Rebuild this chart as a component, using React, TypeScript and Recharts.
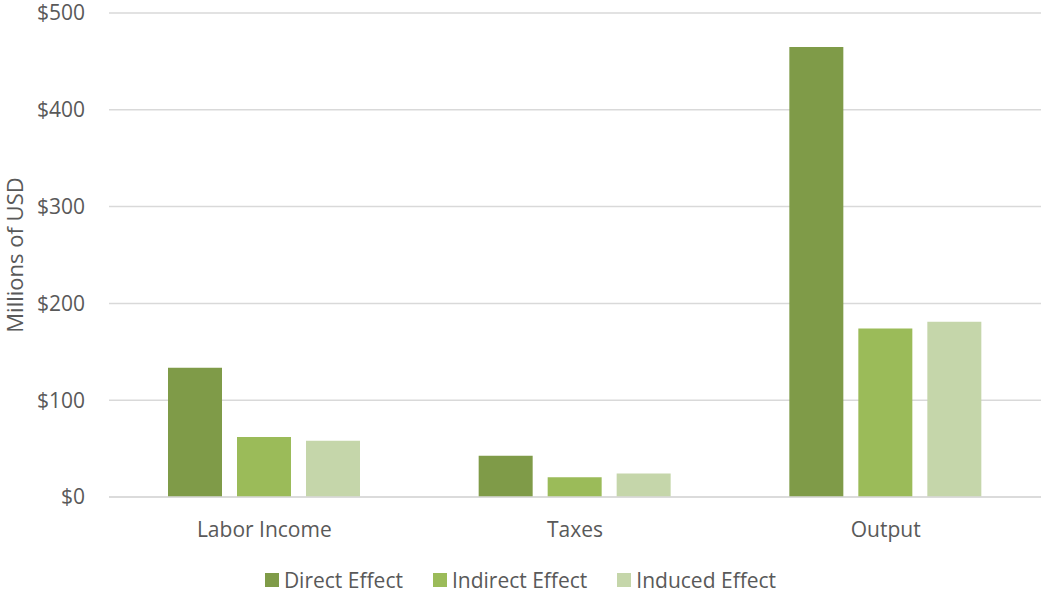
import { BarChart, Bar, XAxis, YAxis, CartesianGrid, Legend } from "recharts";

const categories = ["Labor Income", "Taxes", "Output"];
const directEffect = [133.5, 42.7, 465];
const indirectEffect = [62, 20.5, 174];
const inducedEffect = [58, 24.3, 181];
const yTicks = [0, 100, 200, 300, 400, 500];

const SERIES = [
  { key: "direct", name: "Direct Effect", color: "#7F9B48" },
  { key: "indirect", name: "Indirect Effect", color: "#9BBB59" },
  { key: "induced", name: "Induced Effect", color: "#C5D6AA" },
];

const chartData = categories.map((name, i) => ({
  name,
  direct: directEffect[i],
  indirect: indirectEffect[i],
  induced: inducedEffect[i],
}));

const FONT = "'Open Sans', sans-serif";
const TEXT = "#595959";

const LegendContent = () => (
  <div
    style={{
      height: 45,
      display: "flex",
      justifyContent: "center",
      alignItems: "flex-end",
      fontFamily: FONT,
      fontSize: 21,
      lineHeight: "24px",
      color: TEXT,
    }}
  >
    {SERIES.map((s) => (
      <div
        key={s.key}
        style={{ display: "flex", alignItems: "center", margin: "0 15px", height: 24 }}
      >
        <span
          style={{
            display: "inline-block",
            width: 14,
            height: 14,
            background: s.color,
            marginRight: 5,
          }}
        />
        <span>{s.name}</span>
      </div>
    ))}
  </div>
);

export default function App() {
  return (
    <div style={{ position: "absolute", left: 0, top: 0 }}>
      <BarChart
        width={1041}
        height={592}
        data={chartData}
        margin={{ top: 13, right: 0, bottom: 0, left: 0 }}
        barGap={15}
        barSize={54}
      >
        <CartesianGrid vertical={false} stroke="#D9D9D9" strokeWidth={1.5} />
        <XAxis
          dataKey="name"
          height={50}
          axisLine={{ stroke: "#D9D9D9", strokeWidth: 1.5 }}
          tickLine={false}
          tickMargin={19}
          tick={{ fill: TEXT, fontSize: 21, fontFamily: FONT }}
        />
        <YAxis
          width={109}
          domain={[0, 500]}
          ticks={yTicks}
          axisLine={false}
          tickLine={false}
          tickMargin={18}
          tickFormatter={(v: number) => `$${v}`}
          tick={{ fill: TEXT, fontSize: 21, fontFamily: FONT }}
          label={(props: any) => {
            const vb = props.viewBox || {};
            const cy = (vb.y ?? 13) + (vb.height ?? 484) / 2;
            const cx = 14;
            return (
              <text
                x={cx}
                y={cy}
                transform={`rotate(-90 ${cx} ${cy})`}
                textAnchor="middle"
                dominantBaseline="central"
                fill={TEXT}
                fontSize={22}
                fontFamily={FONT}
              >
                Millions of USD
              </text>
            );
          }}
        />
        <Legend verticalAlign="bottom" height={45} content={LegendContent} />
        {SERIES.map((s) => (
          <Bar
            key={s.key}
            dataKey={s.key}
            name={s.name}
            fill={s.color}
            isAnimationActive={false}
          />
        ))}
      </BarChart>
    </div>
  );
}
